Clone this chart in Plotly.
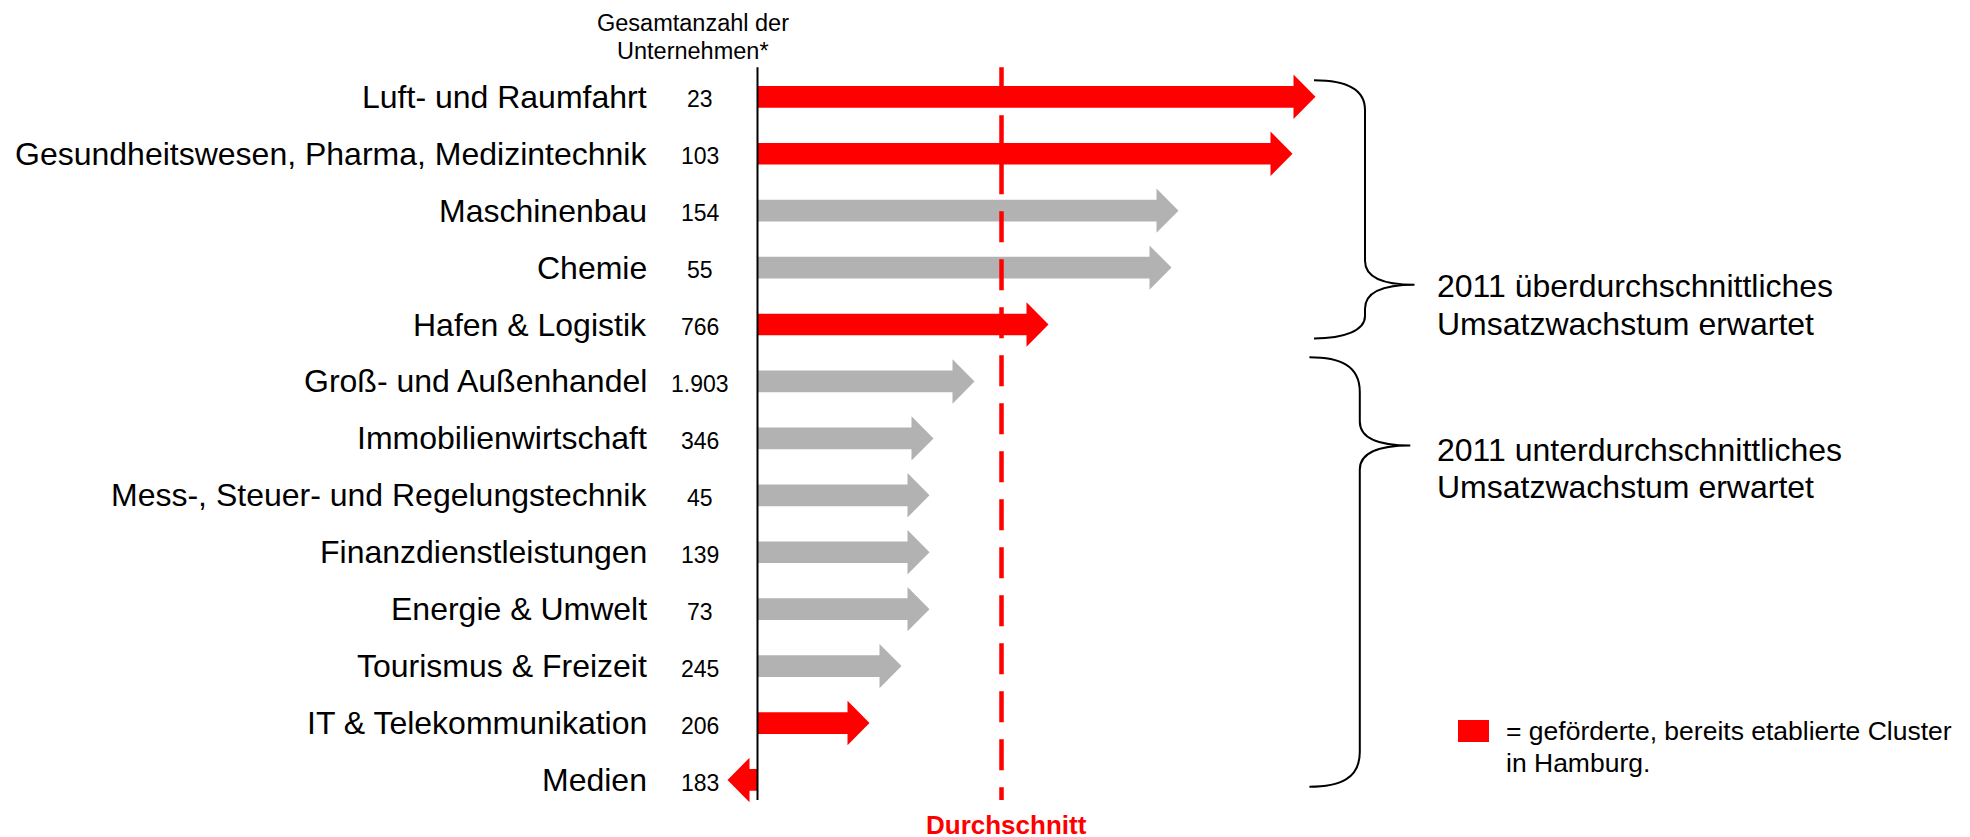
import plotly.graph_objects as go

# ---------------- data ----------------
categories = [
    "Luft- und Raumfahrt",
    "Gesundheitswesen, Pharma, Medizintechnik",
    "Maschinenbau",
    "Chemie",
    "Hafen & Logistik",
    "Groß- und Außenhandel",
    "Immobilienwirtschaft",
    "Mess-, Steuer- und Regelungstechnik",
    "Finanzdienstleistungen",
    "Energie & Umwelt",
    "Tourismus & Freizeit",
    "IT & Telekommunikation",
    "Medien",
]
companies = [23, 103, 154, 55, 766, 1903, 346, 45, 139, 73, 245, 206, 183]
growth = [5.58, 5.35, 4.21, 4.14, 2.91, 2.17, 1.76, 1.72, 1.72, 1.72, 1.44, 1.12, -0.30]
funded = [True, True, False, False, True, False, False, False, False, False, False, True, True]
average = 2.44

header_lines = ["Gesamtanzahl der", "Unternehmen*"]
above_text = ["2011 überdurchschnittliches", "Umsatzwachstum erwartet"]
below_text = ["2011 unterdurchschnittliches", "Umsatzwachstum erwartet"]
legend_text = ["= geförderte, bereits etablierte Cluster", "in Hamburg."]
avg_label = "Durchschnitt"

# ---------------- layout constants ----------------
W, H = 1970, 837
PX0, PXU = 757.5, 100.0       # pixel of value 0, pixels per value unit
ROW0, ROWH = 96.8, 56.93      # pixel of first row centre, row pitch
RED, GREY = "#FF0000", "#B2B2B2"
FONT = "Liberation Sans, Arial, sans-serif"

def xv(px):
    return (px - PX0) / PXU

def yr(py):
    return (py - ROW0) / ROWH

HEAD_LEN = 22 / PXU
SHAFT_H = 10.85 / ROWH
HEAD_H = 22.2 / ROWH

fig = go.Figure()

for i, (cat, v, f) in enumerate(zip(categories, growth, funded)):
    d = 1 if v >= 0 else -1
    base = v - d * HEAD_LEN
    xs = [0, base, base, v, base, base, 0, 0]
    ys = [i - SHAFT_H, i - SHAFT_H, i - HEAD_H, i, i + HEAD_H, i + SHAFT_H, i + SHAFT_H, i - SHAFT_H]
    col = RED if f else GREY
    fig.add_trace(go.Scatter(
        x=xs, y=ys, mode="lines", fill="toself", fillcolor=col,
        line=dict(width=0, color=col), name=cat, hoverinfo="text",
        text=f"{cat}: {v}", showlegend=False,
    ))

n = len(categories)
top_row, bot_row = -0.52, n - 1 + 0.35

# axis line at zero
fig.add_shape(type="line", x0=0, x1=0, y0=top_row, y1=bot_row,
              line=dict(color="black", width=2), layer="above")
# average dashed line
fig.add_shape(type="line", x0=average, x1=average, y0=top_row, y1=bot_row,
              line=dict(color=RED, width=4.5, dash="31px,17px"), layer="above")

annotations = []
for i, (cat, c) in enumerate(zip(categories, companies)):
    annotations.append(dict(x=xv(648), y=i, text=cat, xanchor="right", yanchor="middle",
                            showarrow=False, borderpad=0,
                            font=dict(size=32, color="black", family=FONT)))
    annotations.append(dict(x=xv(700), y=i + 0.045, text=f"{c:,}".replace(",", "."),
                            xanchor="center", yanchor="middle", showarrow=False,
                            font=dict(size=23, color="black", family=FONT)))

for t, py in zip(header_lines, [22.5, 51]):
    annotations.append(dict(x=xv(693), y=yr(py), text=t, xanchor="center", yanchor="middle",
                            showarrow=False, font=dict(size=23.5, color="black", family=FONT)))

annotations.append(dict(x=average + 0.05, y=yr(825), text=f"<b>{avg_label}</b>", xanchor="center",
                        yanchor="middle", showarrow=False, borderpad=0,
                        font=dict(size=26, color=RED, family=FONT)))

for t, py in zip(above_text, [285.6, 324.3]):
    annotations.append(dict(x=xv(1434.6), y=yr(py), text=t, xanchor="left", yanchor="middle",
                            showarrow=False, font=dict(size=32, color="black", family=FONT)))
for t, py in zip(below_text, [449.8, 487]):
    annotations.append(dict(x=xv(1434.6), y=yr(py), text=t, xanchor="left", yanchor="middle",
                            showarrow=False, font=dict(size=32, color="black", family=FONT)))
for t, py in zip(legend_text, [731, 763]):
    annotations.append(dict(x=xv(1503.8), y=yr(py), text=t, xanchor="left", yanchor="middle",
                            showarrow=False, font=dict(size=26.5, color="black", family=FONT)))

# legend swatch
fig.add_shape(type="rect", x0=xv(1458), x1=xv(1489), y0=yr(720), y1=yr(742),
              fillcolor=RED, line=dict(width=0))


def brace(x_end, x_spine, x_tip, y_top, y_up, y_tip, y_lo, y_bot):
    """curly brace path (pixel inputs) -> data-coordinate SVG path"""
    def p(x, y):
        return f"{xv(x):.4f},{yr(y):.4f}"
    dx = x_spine - x_end
    tx = x_tip - x_spine
    path = (
        f"M {p(x_end, y_top)} "
        f"C {p(x_end + dx * 0.6, y_top)} {p(x_spine, y_top + 8)} {p(x_spine, y_up)} "
        f"L {p(x_spine, y_tip - 24)} "
        f"C {p(x_spine, y_tip - 6)} {p(x_spine + tx * 0.4, y_tip)} {p(x_tip, y_tip)} "
        f"C {p(x_spine + tx * 0.4, y_tip)} {p(x_spine, y_tip + 6)} {p(x_spine, y_tip + 24)} "
        f"L {p(x_spine, y_lo)} "
        f"C {p(x_spine, y_bot - 8)} {p(x_end + dx * 0.6, y_bot)} {p(x_end, y_bot)}"
    )
    return path


fig.add_shape(type="path", path=brace(1314, 1365, 1414.5, 80.3, 110, 284.8, 316, 338.4),
              line=dict(color="black", width=2), xref="x", yref="y")
fig.add_shape(type="path", path=brace(1309.4, 1359.8, 1410.3, 357.3, 392, 445.6, 752, 786.8),
              line=dict(color="black", width=2), xref="x", yref="y")

fig.update_layout(
    width=W, height=H,
    margin=dict(l=0, r=0, t=0, b=0, pad=0),
    paper_bgcolor="white", plot_bgcolor="white",
    showlegend=False,
    annotations=annotations,
    xaxis=dict(range=[xv(0), xv(W)], visible=False, fixedrange=True),
    yaxis=dict(range=[yr(H), yr(0)], visible=False, fixedrange=True),
)

fig.write_html("out.html", config={"displayModeBar": False},
               post_script="document.body.style.margin='0';document.body.style.overflow='hidden';")
